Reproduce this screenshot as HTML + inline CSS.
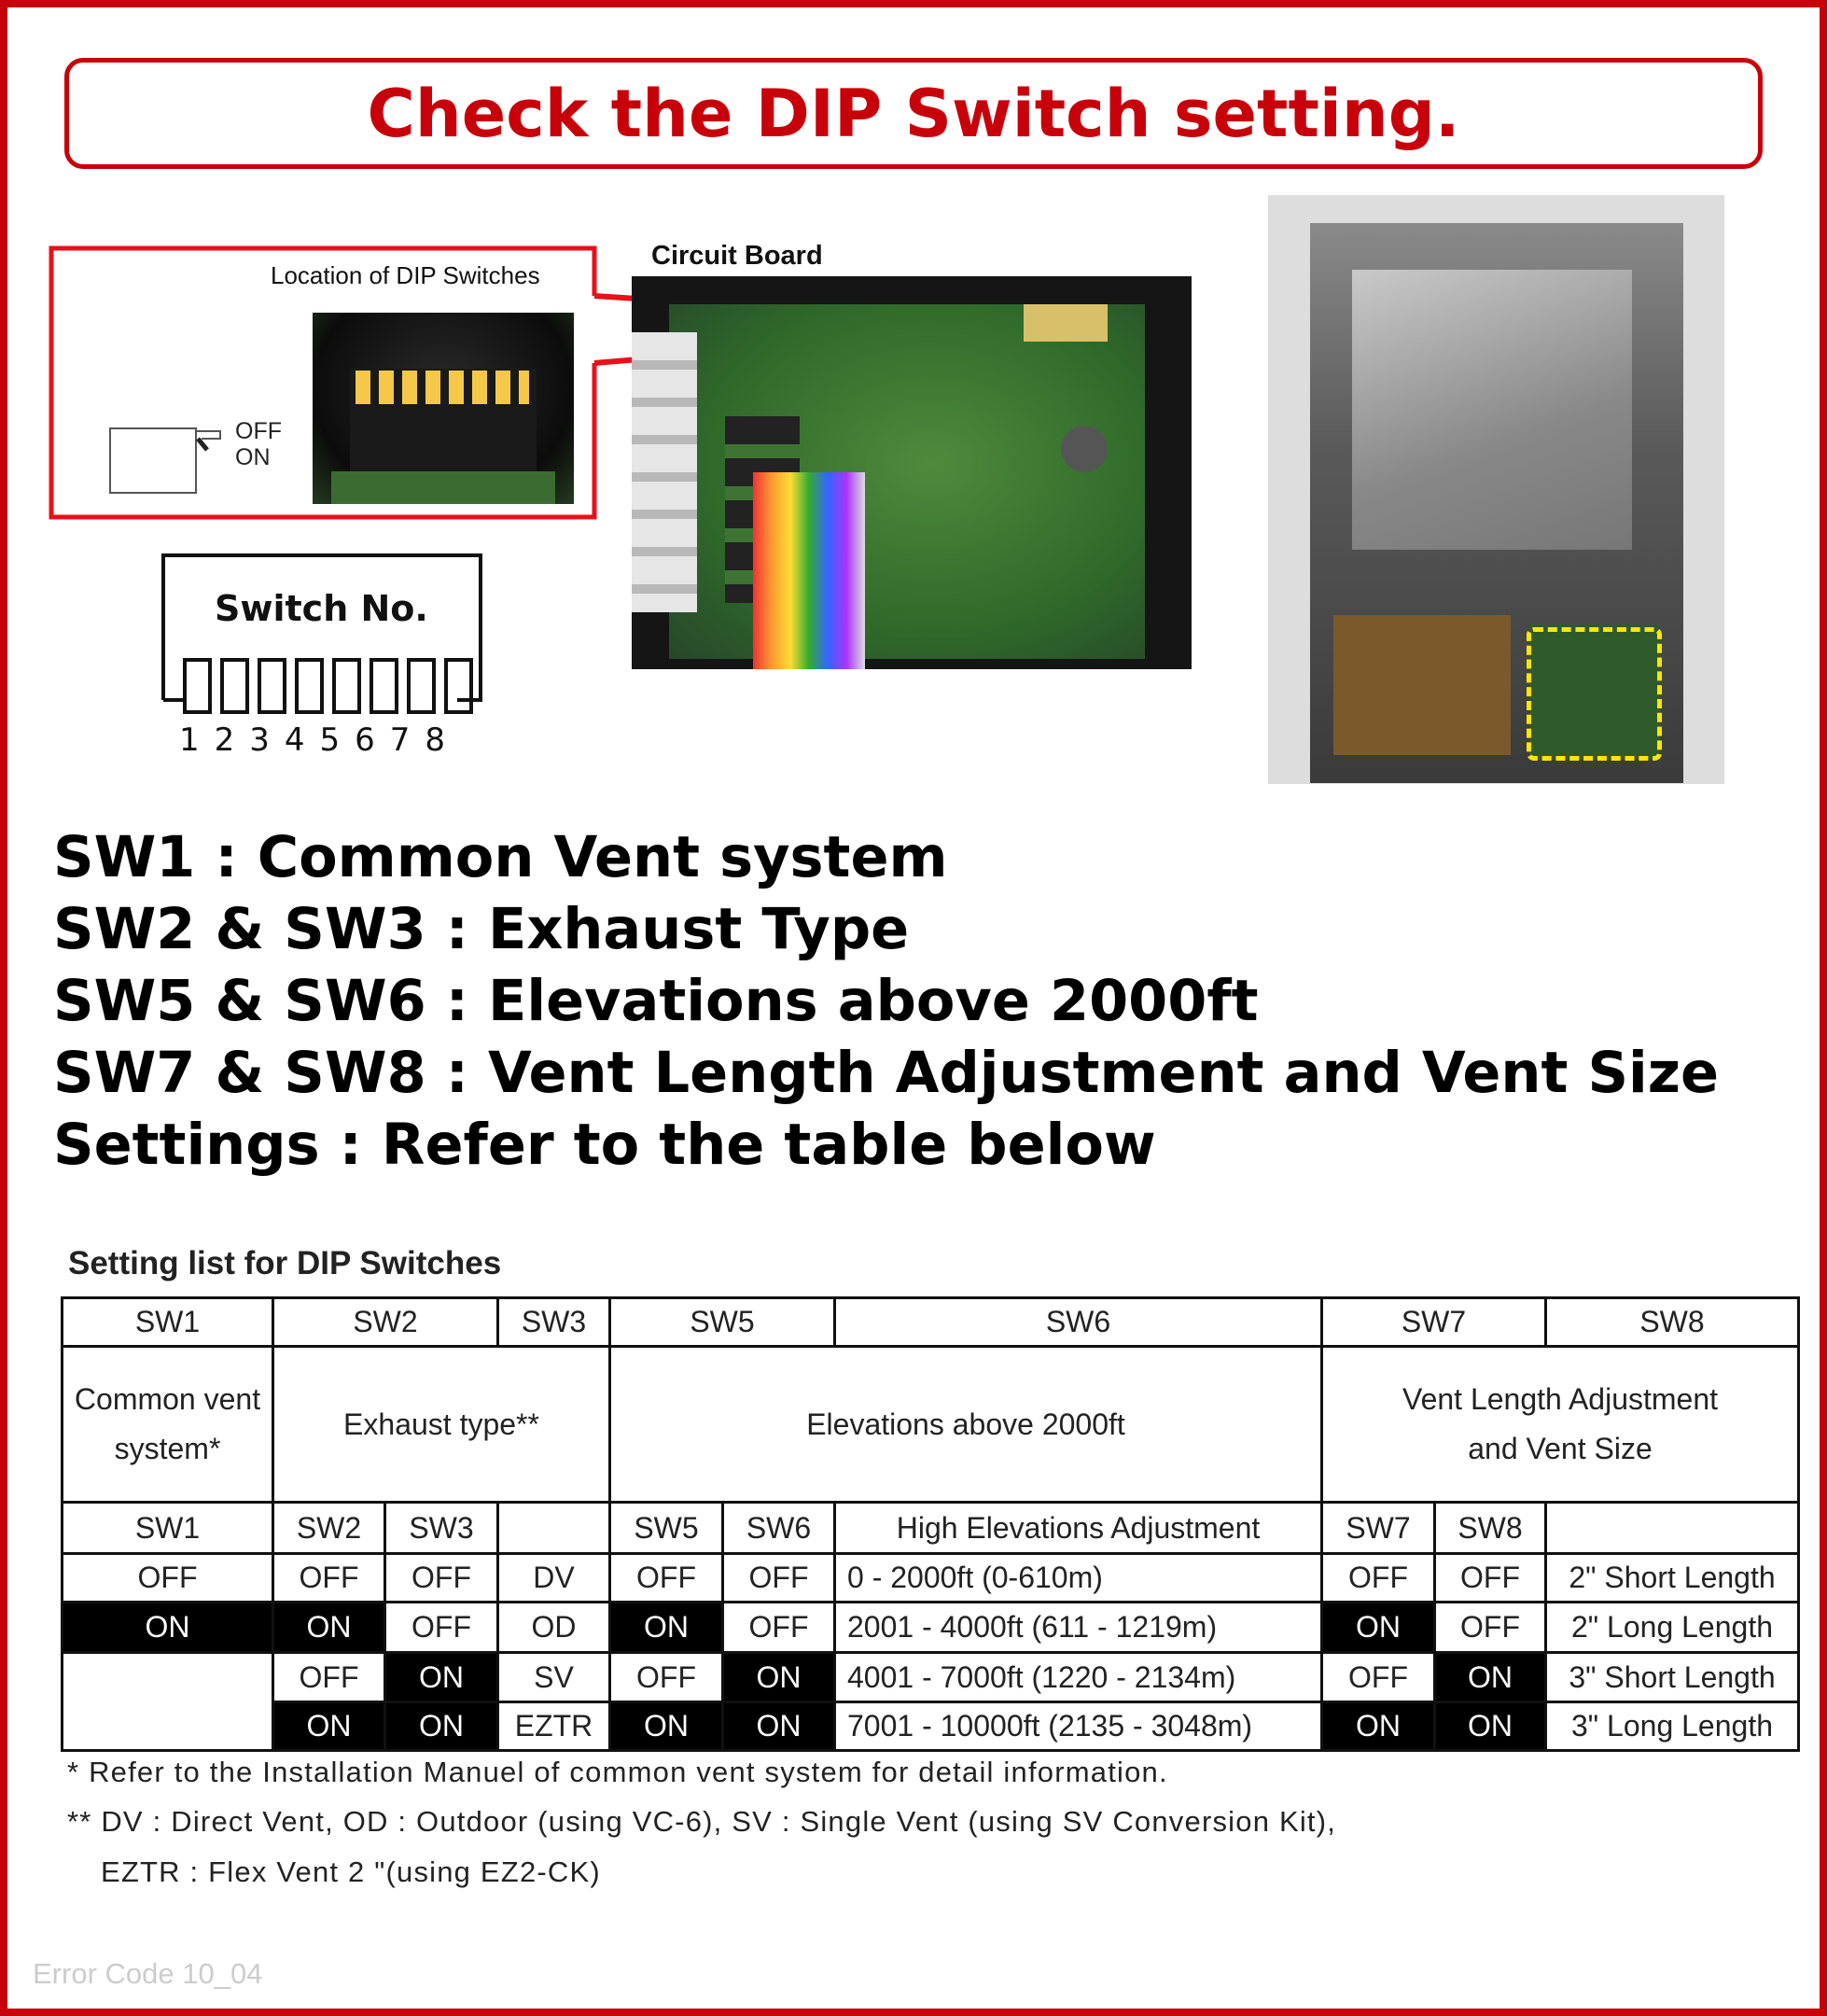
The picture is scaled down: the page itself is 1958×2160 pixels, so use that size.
<!DOCTYPE html>
<html><head><meta charset="utf-8"><style>
*{margin:0;padding:0;box-sizing:border-box}
body{width:1958px;height:2160px;position:relative;background:#fff;overflow:hidden;font-family:"Liberation Sans",sans-serif}
.frame{position:absolute;left:0;top:0;width:1958px;height:2160px;border:8px solid #c8000a}
.title{position:absolute;left:69px;top:62px;width:1820px;height:119px;border:5px solid #c8000a;border-radius:20px;text-align:center;font-family:"DejaVu Sans",sans-serif;font-weight:bold;color:#c8000a;font-size:70px;line-height:110px}
.abs{position:absolute}
.big{position:absolute;left:57px;font-family:"DejaVu Sans",sans-serif;font-weight:bold;font-size:60.5px;color:#000;white-space:nowrap}
table{position:absolute;left:65px;top:1389px;border-collapse:collapse;font-family:"Liberation Sans Narrow","Liberation Sans",sans-serif;font-size:32px;color:#222;table-layout:fixed}
td{border:3px solid #111;text-align:center;padding:0;white-space:nowrap}
td.b{background:#000;color:#fff}
td.l{text-align:left;padding-left:12px}
.fn{position:absolute;left:72px;font-family:"Liberation Sans Narrow","Liberation Sans",sans-serif;font-size:31px;color:#222;white-space:nowrap;letter-spacing:1.2px}
</style></head><body>
<div class="frame"></div>
<div class="title">Check the DIP Switch setting.</div>

<svg class="abs" style="left:0;top:0" width="1958" height="1000">
<path d="M637 317 L637 266 L55 266 L55 554 L637 554 L637 389" fill="none" stroke="#e8101a" stroke-width="5"/>
<line x1="637" y1="317" x2="1098" y2="347" stroke="#e8101a" stroke-width="6"/>
<line x1="637" y1="389" x2="1098" y2="350" stroke="#e8101a" stroke-width="6"/>
<rect x="118" y="459" width="92" height="69" fill="#fff" stroke="#555" stroke-width="2"/>
<path d="M210 462 L236 462 L236 470 L216 470" fill="none" stroke="#555" stroke-width="2"/>
<line x1="212" y1="470" x2="222" y2="482" stroke="#222" stroke-width="5"/>
</svg>
<div class="abs" style="left:290px;top:280px;font-size:26px;color:#111">Location of DIP Switches</div>
<div class="abs" style="left:252px;top:448px;font-size:25px;line-height:28px;color:#222">OFF<br>ON</div>
<div class="abs" style="left:335px;top:335px;width:280px;height:205px;background:radial-gradient(ellipse at 50% 40%,#2a2a2a,#0c0c0c 70%,#243a1e)">
 <div class="abs" style="left:40px;top:60px;width:200px;height:110px;background:#1a1a1a"></div>
 <div class="abs" style="left:46px;top:62px;width:186px;height:36px;background:repeating-linear-gradient(90deg,#f5c84a 0 16px,transparent 16px 25px)"></div>
 <div class="abs" style="left:20px;top:170px;width:240px;height:35px;background:#3b6a32"></div>
</div>
<div class="abs" style="left:698px;top:258px;font-size:29px;font-weight:bold;color:#111">Circuit Board</div>
<div class="abs" style="left:677px;top:296px;width:600px;height:421px;background:#151515">
 <div class="abs" style="left:40px;top:30px;width:510px;height:380px;background:radial-gradient(ellipse at 55% 45%,#4f8a3c,#2f6a2a 60%,#27472a)"></div>
 <div class="abs" style="left:0;top:60px;width:70px;height:300px;background:repeating-linear-gradient(180deg,#e6e6e6 0 30px,#b8b8b8 30px 40px)"></div>
 <div class="abs" style="left:100px;top:150px;width:80px;height:200px;background:repeating-linear-gradient(180deg,#222 0 30px,#3f7334 30px 45px)"></div>
 <div class="abs" style="left:130px;top:210px;width:120px;height:211px;background:linear-gradient(90deg,#e33,#f93,#fd3,#3a3,#36f,#a3f,#ddd)"></div>
 <div class="abs" style="left:460px;top:160px;width:50px;height:50px;border-radius:50%;background:#555"></div>
 <div class="abs" style="left:420px;top:30px;width:90px;height:40px;background:#d8c06a"></div>
</div>
<div class="abs" style="left:1359px;top:209px;width:489px;height:631px;background:#ddd">
 <div class="abs" style="left:45px;top:30px;width:400px;height:600px;background:linear-gradient(180deg,#8a8a8a,#5a5a5a 40%,#3a3a3a)"></div>
 <div class="abs" style="left:90px;top:80px;width:300px;height:300px;background:linear-gradient(160deg,#c9c9c9,#888 60%,#777)"></div>
 <div class="abs" style="left:70px;top:450px;width:190px;height:150px;background:#7a5a2a"></div>
 <div class="abs" style="left:280px;top:460px;width:140px;height:145px;background:#2f5a2a"></div>
 <div class="abs" style="left:277px;top:463px;width:145px;height:143px;border:5px dashed #ffe600;border-radius:8px"></div>
</div>
<svg class="abs" style="left:170px;top:590px" width="360" height="230">
<path d="M5 160 L5 5 L345 5 L345 160 L320 160" fill="none" stroke="#111" stroke-width="4"/>
<line x1="5" y1="160" x2="28" y2="160" stroke="#111" stroke-width="4"/>
<g fill="none" stroke="#111" stroke-width="4">
<rect x="28" y="117" width="27" height="56"/><rect x="68" y="117" width="27" height="56"/><rect x="108" y="117" width="27" height="56"/><rect x="148" y="117" width="27" height="56"/>
<rect x="188" y="117" width="27" height="56"/><rect x="228" y="117" width="27" height="56"/><rect x="268" y="117" width="27" height="56"/><rect x="308" y="117" width="27" height="56"/>
</g>
<text x="60" y="75" font-family="DejaVu Sans" font-weight="bold" font-size="38" fill="#111">Switch No.</text>
<text x="22" y="214" font-family="DejaVu Sans" font-size="34" fill="#111" letter-spacing="16">12345678</text>
</svg>

<div class="big" style="top:884px">SW1 : Common Vent system</div>
<div class="big" style="top:961px">SW2 &amp; SW3 : Exhaust Type</div>
<div class="big" style="top:1038px">SW5 &amp; SW6 : Elevations above 2000ft</div>
<div class="big" style="top:1115px">SW7 &amp; SW8 : Vent Length Adjustment and Vent Size</div>
<div class="big" style="top:1192px">Settings : Refer to the table below</div>

<div class="abs" style="left:73px;top:1334px;font-size:35px;font-weight:bold;color:#222;font-family:'Liberation Sans Narrow','Liberation Sans',sans-serif">Setting list for DIP Switches</div>

<table>
<colgroup><col style="width:226px"><col style="width:120px"><col style="width:121px"><col style="width:120px"><col style="width:121px"><col style="width:120px"><col style="width:522px"><col style="width:121px"><col style="width:119px"><col style="width:271px"></colgroup>
<tr style="height:52px"><td>SW1</td><td colspan="2">SW2</td><td>SW3</td><td colspan="2">SW5</td><td>SW6</td><td colspan="2">SW7</td><td>SW8</td></tr>
<tr style="height:167px"><td style="line-height:53px">Common vent<br>system*</td><td colspan="3">Exhaust type**</td><td colspan="3">Elevations above 2000ft</td><td colspan="3" style="line-height:53px">Vent Length Adjustment<br>and Vent Size</td></tr>
<tr style="height:55px"><td>SW1</td><td>SW2</td><td>SW3</td><td></td><td>SW5</td><td>SW6</td><td>High Elevations Adjustment</td><td>SW7</td><td>SW8</td><td></td></tr>
<tr style="height:52px"><td>OFF</td><td>OFF</td><td>OFF</td><td>DV</td><td>OFF</td><td>OFF</td><td class="l">0 - 2000ft (0-610m)</td><td>OFF</td><td>OFF</td><td>2" Short Length</td></tr>
<tr style="height:54px"><td class="b">ON</td><td class="b">ON</td><td>OFF</td><td>OD</td><td class="b">ON</td><td>OFF</td><td class="l">2001 - 4000ft (611 - 1219m)</td><td class="b">ON</td><td>OFF</td><td>2" Long Length</td></tr>
<tr style="height:53px"><td rowspan="2"></td><td>OFF</td><td class="b">ON</td><td>SV</td><td>OFF</td><td class="b">ON</td><td class="l">4001 - 7000ft (1220 - 2134m)</td><td>OFF</td><td class="b">ON</td><td>3" Short Length</td></tr>
<tr style="height:52px"><td class="b">ON</td><td class="b">ON</td><td>EZTR</td><td class="b">ON</td><td class="b">ON</td><td class="l">7001 - 10000ft (2135 - 3048m)</td><td class="b">ON</td><td class="b">ON</td><td>3" Long Length</td></tr>
</table>

<div class="fn" style="top:1881px">* Refer to the Installation Manuel of common vent system for detail information.</div>
<div class="fn" style="top:1934px">** DV : Direct Vent, OD : Outdoor (using VC-6), SV : Single Vent (using SV Conversion Kit),</div>
<div class="fn" style="top:1988px;left:108px">EZTR : Flex Vent 2 "(using EZ2-CK)</div>
<div class="abs" style="left:35px;top:2097px;font-size:31px;color:#ccc">Error Code 10_04</div>
</body></html>
